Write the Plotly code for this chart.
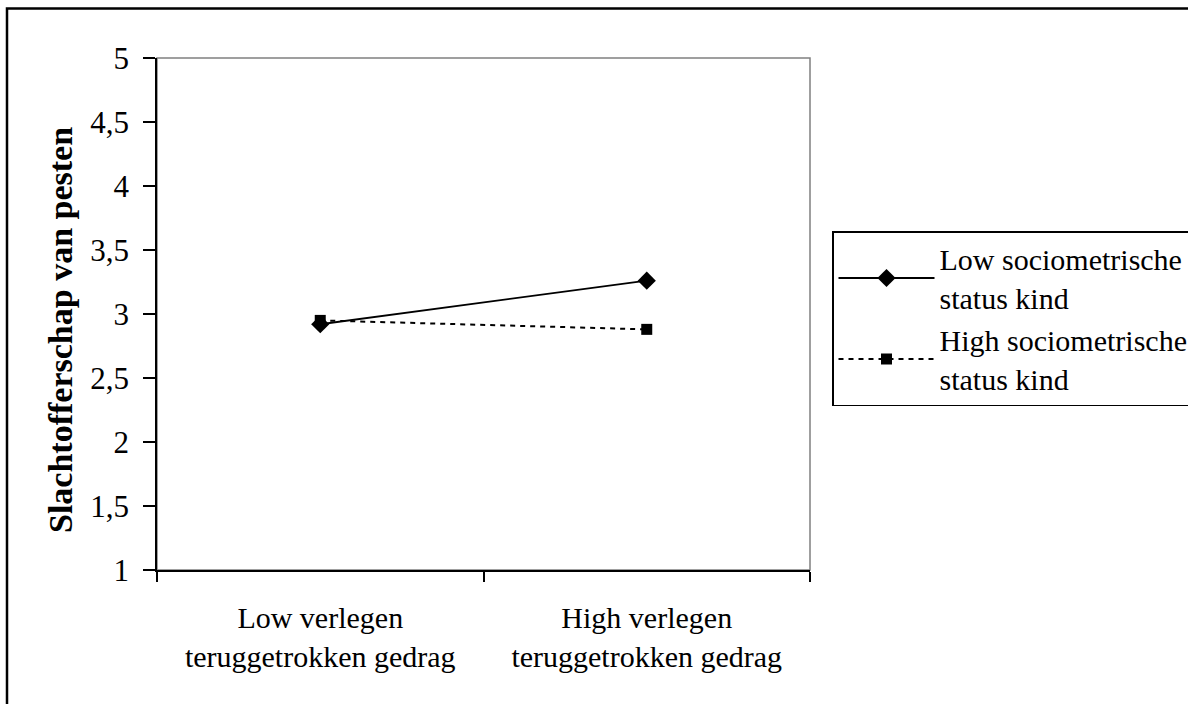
import plotly.graph_objects as go

# ---- data ----
categories = ["Low verlegen<br>teruggetrokken gedrag", "High verlegen<br>teruggetrokken gedrag"]
series_names = ["Low sociometrische<br>status kind", "High sociometrische<br>status kind"]
low_status = [2.92, 3.26]
high_status = [2.95, 2.88]
y_tickvals = [1, 1.5, 2, 2.5, 3, 3.5, 4, 4.5, 5]
y_ticktext = ["1", "1,5", "2", "2,5", "3", "3,5", "4", "4,5", "5"]
y_title = "Slachtofferschap van pesten"

FONT = "Liberation Serif, Times New Roman, serif"

fig = go.Figure()
fig.add_trace(go.Scatter(
    x=categories, y=low_status, name=series_names[0], mode="lines+markers",
    line=dict(color="black", width=1.8, dash="solid"),
    marker=dict(symbol="diamond", size=14, color="black"),
))
fig.add_trace(go.Scatter(
    x=categories, y=high_status, name=series_names[1], mode="lines+markers",
    line=dict(color="black", width=2, dash="5px,5px"),
    marker=dict(symbol="square", size=11, color="black"),
))

L, R, T, B = 157, 378, 58, 134
W, H = 1188, 704
pw, ph = W - L - R, H - T - B

def px_x(p):
    return (p - L) / pw

def px_y(p):
    return (H - B - p) / ph

fig.update_layout(
    width=W, height=H,
    margin=dict(l=L, r=R, t=T, b=B, autoexpand=False),
    paper_bgcolor="white", plot_bgcolor="white",
    font=dict(family=FONT, size=30, color="black"),
    showlegend=True,
    legend=dict(
        x=px_x(832), y=px_y(231), xanchor="left", yanchor="top",
        bordercolor="black", borderwidth=1.5, bgcolor="white",
        font=dict(family=FONT, size=30, color="black"),
        tracegroupgap=0, itemwidth=96,
    ),
    xaxis=dict(
        type="category", range=[-0.5, 1.5], tickson="boundaries",
        ticks="outside", ticklen=10, tickwidth=1.5, tickcolor="black",
        showline=True, linecolor="black", linewidth=1.5,
        showgrid=False, zeroline=False,
        tickfont=dict(family=FONT, size=30, color="black"),
        ticklabelstandoff=20,
    ),
    yaxis=dict(
        range=[1, 5], tickvals=y_tickvals, ticktext=y_ticktext,
        ticks="outside", ticklen=12, tickwidth=1.5, tickcolor="black",
        showline=True, linecolor="black", linewidth=1.5,
        showgrid=False, zeroline=False,
        tickfont=dict(family=FONT, size=31, color="black"),
        ticklabelstandoff=8,
    ),
    annotations=[
        dict(text="<b>" + y_title + "</b>", textangle=-90,
             xref="paper", yref="paper", x=px_x(60), y=px_y(330),
             xanchor="center", yanchor="middle", showarrow=False,
             font=dict(family=FONT, size=34, color="black")),
    ],
    shapes=[
        dict(type="rect", xref="paper", yref="paper", x0=0, x1=1, y0=0, y1=1,
             line=dict(color="#808080", width=1.5), layer="below"),
        dict(type="rect", xref="paper", yref="paper",
             x0=px_x(7), x1=px_x(1250), y0=px_y(780), y1=px_y(8.5),
             line=dict(color="black", width=2.5), layer="below"),
    ],
)

fig.write_html("out.html", config={"displayModeBar": False},
               post_script="document.body.style.margin='0';")
